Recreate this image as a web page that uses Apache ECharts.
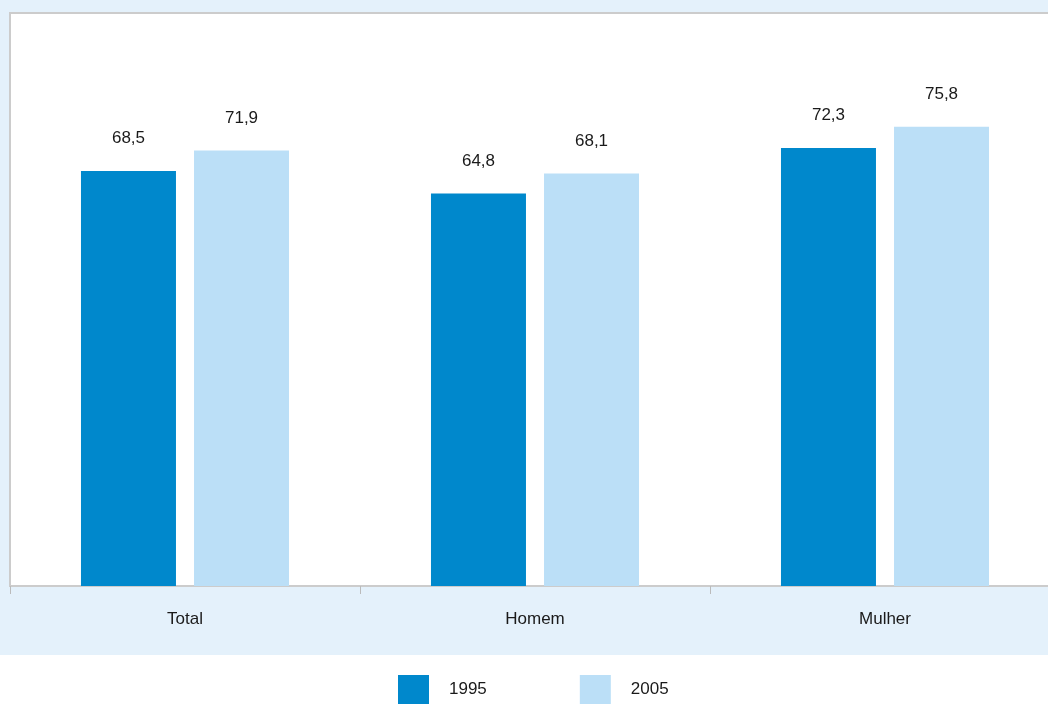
<!DOCTYPE html>
<html>
<head>
<meta charset="utf-8">
<script src="https://cdn.jsdelivr.net/npm/echarts@6/dist/echarts.min.js"></script>
<style>
  html, body { margin: 0; padding: 0; background: #fff; overflow: hidden; }
  #chart { width: 1060px; height: 704px; }
</style>
</head>
<body>
<div id="chart"></div>
<script>
// categories and values
var categories = ['Total', 'Homem', 'Mulher'];
var values1995 = [68.5, 64.8, 72.3];
var values2005 = [71.9, 68.1, 75.8];
var seriesNames = ['1995', '2005'];

// the plot runs a bit past the right edge of the picture, so the chart is wider than the window
var myChart = echarts.init(document.getElementById('chart'));

function virgula(p) {
    return String(p.value.toFixed(1)).replace('.', ',');
}

myChart.setOption({
    backgroundColor: '#e4f1fb',
    textStyle: { fontFamily: 'Liberation Sans, Arial, sans-serif' },
    animation: false,
    graphic: [{
        type: 'rect',
        z: -1,
        shape: { x: 0, y: 655, width: 1060, height: 49 },
        style: { fill: '#ffffff' }
    }],
    grid: {
        left: 10, top: 13, right: 0, bottom: 118,
        show: true,
        backgroundColor: '#ffffff',
        borderColor: '#cccccc',
        borderWidth: 2
    },
    legend: {
        data: seriesNames,
        top: 675,
        left: 398,
        padding: 0,
        itemWidth: 31,
        itemHeight: 29,
        itemGap: 93,
        icon: 'rect',
        textStyle: { fontSize: 17, color: '#1a1a1a', padding: [0, 0, 0, 15] }
    },
    xAxis: {
        type: 'category',
        data: categories,
        axisLine: { lineStyle: { color: '#cccccc', width: 2 } },
        axisTick: { show: true, length: 8, lineStyle: { color: '#bbbbbb', width: 1 } },
        axisLabel: { fontSize: 17, color: '#1a1a1a', margin: 25 }
    },
    yAxis: {
        type: 'value',
        min: 0,
        max: 94.6,
        show: false,
        splitLine: { show: false }
    },
    series: [{
        name: seriesNames[0],
        type: 'bar',
        data: values1995,
        barWidth: 95,
        barGap: '19%',
        itemStyle: { color: '#0088cc' },
        label: { show: true, position: 'top', distance: 24, fontSize: 17, color: '#1a1a1a', formatter: virgula }
    }, {
        name: seriesNames[1],
        type: 'bar',
        data: values2005,
        barWidth: 95,
        itemStyle: { color: '#bbdff7' },
        label: { show: true, position: 'top', distance: 24, fontSize: 17, color: '#1a1a1a', formatter: virgula }
    }]
});
</script>
</body>
</html>
